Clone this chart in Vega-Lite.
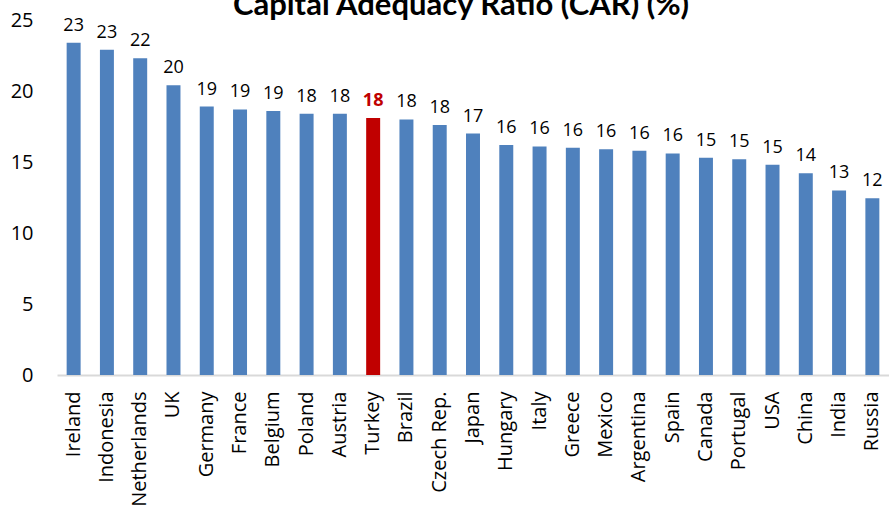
{
  "$schema": "https://vega.github.io/schema/vega-lite/v6.json",
  "autosize": "none",
  "width": 832,
  "height": 355,
  "padding": {"left": 57, "top": 20, "right": 0, "bottom": 137},
  "background": "white",
  "title": {"text": "Capital Adequacy Ratio (CAR) (%)", "font": "Lato", "fontSize": 31, "fontWeight": "bold", "color": "#000000", "anchor": "middle", "offset": 0, "dy": 12, "dx": -12},
  "config": {"view": {"stroke": null}, "font": "Lato"},
  "data": {"values": [
    {"country": "Ireland", "car": 23.4},
    {"country": "Indonesia", "car": 22.9},
    {"country": "Netherlands", "car": 22.3},
    {"country": "UK", "car": 20.4},
    {"country": "Germany", "car": 18.9},
    {"country": "France", "car": 18.7},
    {"country": "Belgium", "car": 18.6},
    {"country": "Poland", "car": 18.4},
    {"country": "Austria", "car": 18.4},
    {"country": "Turkey", "car": 18.1},
    {"country": "Brazil", "car": 18.0},
    {"country": "Czech Rep.", "car": 17.6},
    {"country": "Japan", "car": 17.0},
    {"country": "Hungary", "car": 16.2},
    {"country": "Italy", "car": 16.1},
    {"country": "Greece", "car": 16.0},
    {"country": "Mexico", "car": 15.9},
    {"country": "Argentina", "car": 15.8},
    {"country": "Spain", "car": 15.6},
    {"country": "Canada", "car": 15.3},
    {"country": "Portugal", "car": 15.2},
    {"country": "USA", "car": 14.8},
    {"country": "China", "car": 14.2},
    {"country": "India", "car": 13.0},
    {"country": "Russia", "car": 12.45}
  ]},
  "encoding": {
    "x": {"field": "country", "type": "nominal", "sort": null,
      "scale": {"paddingInner": 0.58, "paddingOuter": 0.29},
      "axis": {"title": null, "labelAngle": -90, "labelFontSize": 20, "labelColor": "#000000", "ticks": false, "labelPadding": 16, "domainColor": "#D9D9D9", "domainWidth": 2, "labelFont": "Open Sans"}},
    "y": {"field": "car", "type": "quantitative",
      "scale": {"domain": [0, 25], "nice": false},
      "axis": {"title": null, "values": [0, 5, 10, 15, 20, 25], "grid": false, "domain": false, "ticks": false, "labelPadding": 24, "labelFontSize": 20, "labelColor": "#000000", "labelFont": "Open Sans"}}
  },
  "layer": [
    {"mark": {"type": "bar"},
     "encoding": {"color": {"condition": {"test": "datum.country === 'Turkey'", "value": "#C00000"}, "value": "#4F81BD"}}},
    {"transform": [{"filter": "datum.country !== 'Turkey'"}],
     "mark": {"type": "text", "baseline": "bottom", "dy": -8, "fontSize": 18, "font": "Open Sans", "color": "#000000"},
     "encoding": {"text": {"field": "car", "type": "quantitative", "format": ".0f"}}},
    {"transform": [{"filter": "datum.country === 'Turkey'"}],
     "mark": {"type": "text", "baseline": "bottom", "dy": -8, "fontSize": 18, "font": "Open Sans", "fontWeight": "bold", "color": "#C00000"},
     "encoding": {"text": {"field": "car", "type": "quantitative", "format": ".0f"}}}
  ]
}
